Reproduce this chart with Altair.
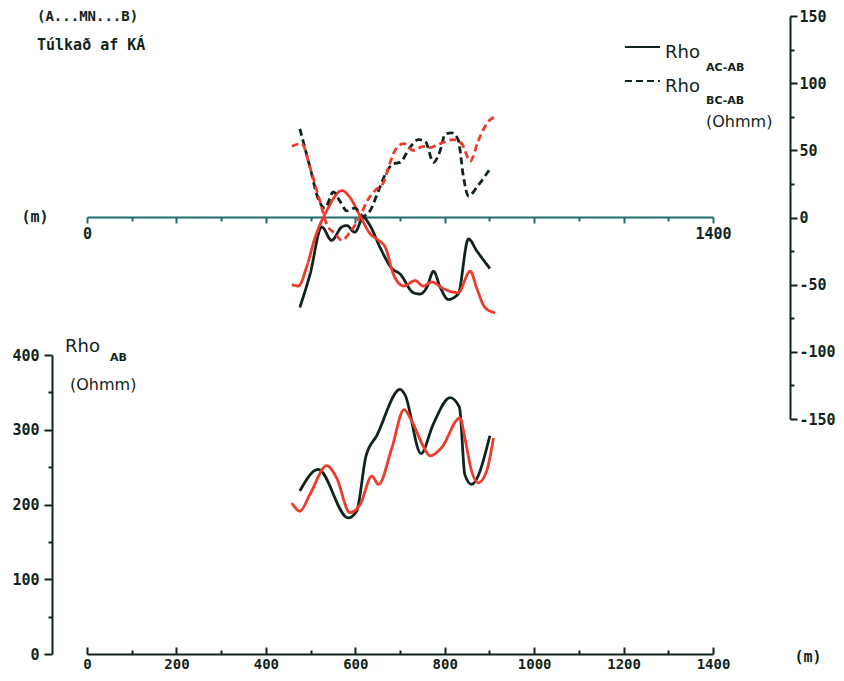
import altair as alt
import pandas as pd

# ---------------- data ----------------
# Lower panel: Rho_AB (Ohmm) vs position (m)
AB_BLACK_X = [476, 517, 584, 603, 624, 648, 700, 711, 747, 774, 812, 833, 845, 860, 901]
AB_BLACK_Y = [218, 247, 182, 191, 265, 292, 354, 347, 268, 307, 343, 330, 240, 227, 292]
AB_RED_X = [458, 476, 499, 536, 558, 588, 611, 637, 652, 682, 709, 726, 752, 767, 793, 834, 845, 860, 875, 894, 909]
AB_RED_Y = [202, 191, 214, 252, 236, 189, 200, 238, 227, 276, 327, 312, 278, 265, 276, 316, 289, 245, 229, 245, 289]

# Upper panel: Rho_AC-AB (solid) and Rho_BC-AB (dashed)
AC_BLACK_X = [476, 499, 525, 547, 570, 581, 599, 618, 633, 655, 682, 700, 730, 745, 760, 775, 790, 808, 830, 853, 872, 901]
AC_BLACK_Y = [-67, -42, -7, -17, -7, -6, -11, 0, -6, -22, -38, -42, -56, -57, -52, -40, -52, -61, -57, -16, -25, -38]
AC_RED_X = [458, 473, 491, 510, 536, 570, 588, 611, 633, 652, 667, 685, 708, 734, 752, 771, 797, 830, 857, 872, 890, 913]
AC_RED_Y = [-50, -51, -37, -15, 5, 20, 15, 1, -12, -17, -22, -42, -51, -47, -51, -48, -53, -56, -40, -53, -67, -71]
BC_BLACK_X = [476, 499, 517, 532, 551, 566, 581, 599, 618, 633, 652, 670, 685, 700, 722, 741, 756, 775, 790, 801, 816, 830, 842, 853, 875, 901]
BC_BLACK_Y = [66, 37, 14, 7, 19, 12, 5, 7, 1, 5, 20, 34, 40, 41, 52, 58, 57, 41, 50, 62, 63, 58, 30, 16, 24, 36]
BC_RED_X = [458, 480, 499, 521, 536, 555, 570, 588, 611, 626, 644, 663, 674, 689, 708, 730, 752, 767, 790, 819, 838, 857, 875, 894, 913]
BC_RED_Y = [53, 55, 37, 12, -5, -12, -17, -11, 1, 12, 20, 26, 37, 50, 55, 50, 53, 52, 55, 58, 55, 42, 57, 70, 75]

X_TICKS = list(range(0, 1401, 100))
AB_TICKS = list(range(0, 401, 50))
DIFF_TICKS = list(range(-150, 151, 25))

# ---------------- styling ----------------
W, H = 626, 638
INK = "#11241b"
RED = "#ee3b2b"
TEAL = "#1f6d6a"
MONO = "DejaVu Sans Mono"
SANS = "DejaVu Sans"


def long(pairs):
    rows = []
    for name, xs, ys in pairs:
        for x, y in zip(xs, ys):
            rows.append({"x": x, "v": y, "s": name})
    return pd.DataFrame(rows)


df_ab = long([("black", AB_BLACK_X, AB_BLACK_Y), ("red", AB_RED_X, AB_RED_Y)])
df_top = long([
    ("ac_black", AC_BLACK_X, AC_BLACK_Y),
    ("ac_red", AC_RED_X, AC_RED_Y),
    ("bc_black", BC_BLACK_X, BC_BLACK_Y),
    ("bc_red", BC_RED_X, BC_RED_Y),
])

lbl_common = dict(labelFont=MONO, labelFontWeight="bold", labelColor=INK,
                  grid=False, title=None, labelFlush=False, labelOverlap=False)

# lower panel
bottom = alt.Chart(df_ab).mark_line(strokeWidth=2.8, interpolate="monotone").encode(
    x=alt.X("x:Q",
            scale=alt.Scale(domain=[0, 1400], nice=False, zero=False),
            axis=alt.Axis(orient="top", offset=-H, values=X_TICKS,
                          labelExpr="datum.value % 200 === 0 ? toString(datum.value) : ''",
                          tickSize={"condition": {"test": "datum.value % 200 === 0", "value": 7}, "value": 4},
                          labelPadding=-10, labelBaseline="top", labelFontSize=14,
                          domainColor=INK, domainWidth=2, tickColor=INK, tickWidth=2,
                          **lbl_common)),
    y=alt.Y("v:Q",
            scale=alt.Scale(domain=[0, 400], range=[638, 339], nice=False, zero=False),
            axis=alt.Axis(orient="left", offset=35, values=AB_TICKS,
                          labelExpr="datum.value % 100 === 0 ? toString(datum.value) : ''",
                          tickSize={"condition": {"test": "datum.value % 100 === 0", "value": 8}, "value": 4},
                          labelPadding=5, labelFontSize=15,
                          domainColor=INK, domainWidth=2, tickColor=INK, tickWidth=2,
                          **lbl_common)),
    color=alt.Color("s:N", scale=alt.Scale(domain=["black", "red"], range=[INK, RED]), legend=None),
    detail="s:N",
)

# upper panel
top = alt.Chart(df_top).mark_line(strokeWidth=2.8, interpolate="monotone").encode(
    x=alt.X("x:Q",
            scale=alt.Scale(domain=[0, 1400], nice=False, zero=False),
            axis=alt.Axis(orient="bottom", offset=-437, values=X_TICKS,
                          labelExpr="datum.value === 0 || datum.value === 1400 ? toString(datum.value) : ''",
                          tickSize={"condition": {"test": "datum.value % 200 === 0", "value": 6}, "value": 4},
                          labelPadding=3, labelFontSize=15,
                          domainColor=TEAL, domainWidth=2, tickColor=TEAL, tickWidth=2,
                          **lbl_common)),
    y=alt.Y("v:Q",
            scale=alt.Scale(domain=[-150, 150], range=[403, 0], nice=False, zero=False),
            axis=alt.Axis(orient="right", offset=77, values=DIFF_TICKS,
                          labelExpr="datum.value % 50 === 0 ? toString(datum.value) : ''",
                          tickSize={"condition": {"test": "datum.value % 50 === 0", "value": 7}, "value": 4},
                          labelPadding=2, labelFontSize=15,
                          domainColor=INK, domainWidth=2, tickColor=INK, tickWidth=2,
                          **lbl_common)),
    color=alt.Color("s:N", scale=alt.Scale(domain=["ac_black", "ac_red", "bc_black", "bc_red"],
                                           range=[INK, RED, INK, RED]), legend=None),
    strokeDash=alt.StrokeDash("s:N", scale=alt.Scale(domain=["ac_black", "ac_red", "bc_black", "bc_red"],
                                                     range=[[1, 0], [1, 0], [7, 4], [7, 4]]), legend=None),
    detail="s:N",
)


def txt(s, x, y, size, font=MONO, weight="bold", align="left", baseline="middle"):
    return alt.Chart(pd.DataFrame({"t": [s]})).mark_text(
        align=align, baseline=baseline, font=font, fontSize=size, fontWeight=weight, color=INK
    ).encode(x=alt.value(x), y=alt.value(y), text="t:N")


def rule(x1, x2, y, dash=None):
    kw = dict(color=INK, strokeWidth=2)
    if dash:
        kw["strokeDash"] = dash
    return alt.Chart(pd.DataFrame({"a": [0]})).mark_rule(**kw).encode(
        x=alt.value(x1), x2=alt.value(x2), y=alt.value(y))


annotations = [
    txt("(A...MN...B)", -50, 1, 14),
    txt("Túlkað af KÁ", -50, 29, 15),
    txt("(m)", -52, 201, 15, align="center"),
    txt("(m)", 721, 641, 15, align="center"),
    # legend upper panel
    rule(538, 573, 31),
    txt("Rho", 578, 42, 18, font=SANS, weight="normal", baseline="alphabetic"),
    txt("AC-AB", 619, 52, 11, font=SANS),
    rule(538, 573, 65, dash=[7, 4]),
    txt("Rho", 578, 76, 18, font=SANS, weight="normal", baseline="alphabetic"),
    txt("BC-AB", 619, 85, 11, font=SANS),
    txt("(Ohmm)", 619, 106, 16, font=SANS, weight="normal"),
    # lower panel axis title
    txt("Rho", -22, 336, 18, font=SANS, weight="normal", baseline="alphabetic"),
    txt("AB", 23, 342, 11, font=SANS),
    txt("(Ohmm)", -17, 369, 16, font=SANS, weight="normal"),
]

chart = alt.layer(bottom, top, *annotations).resolve_scale(
    x="independent", y="independent", color="independent"
).properties(
    width=W, height=H,
    padding={"left": 79, "top": 8, "right": 123, "bottom": 19},
    autosize=alt.AutoSizeParams(type="none"),
    background="white",
).configure_view(stroke=None)

chart.save("out.html", embed_options={"renderer": "svg", "actions": False})
